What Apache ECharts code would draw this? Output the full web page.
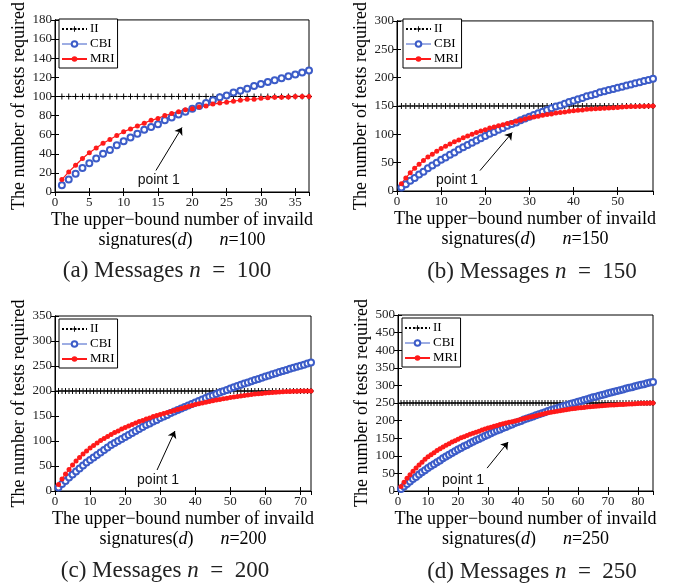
<!DOCTYPE html>
<html><head><meta charset="utf-8">
<script src="https://cdn.jsdelivr.net/npm/echarts@6/dist/echarts.min.js"></script>
<style>html,body{margin:0;padding:0;background:#fff}#c{width:678px;height:588px}</style>
</head><body><div id="c"></div>
<script>
// ---- data (x = d = 1..N) ----
const iiA = [100,100,100,100,100,100,100,100,100,100,100,100,100,100,100,100,100,100,100,100,100,100,100,100,100,100,100,100,100,100,100,100,100,100,100,100,100];
const cbiA = [7,13,19,25,30,35,40,44,49,53,57,61,65,68,71,75,78,81,84,87,90,93,96,99,101,104,106,108,111,113,115,117,119,121,123,125,127];
const mriA = [13,21,28,35,41,46,51,55,59,63,66,69,72,75,77,80,82,84,86,87,89,90,92,93,94,95,96,97,97,98,98.5,99,99,99.5,100,100,100];

const iiB = [150,150,150,150,150,150,150,150,150,150,150,150,150,150,150,150,150,150,150,150,150,150,150,150,150,150,150,150,150,150,150,150,150,150,150,150,150,150,150,150,150,150,150,150,150,150,150,150,150,150,150,150,150,150,150,150,150,150];
const cbiB = [6,12,18,23,29,34,40,45,50,55,59,64,68,73,77,81,85,89,93,97,101,104,108,111,115,118,121,125,128,131,134,137,140,143,146,149,151,154,157,159,162,164,167,169,171,174,176,178,180,182,184,186,188,190,192,194,196,198];
const mriB = [13,23,32,40,47,54,60,65,70,75,79,83,87,90,94,97,100,103,106,108,111,113,115,117,119,121,123,125,127,129,130.5,132,133.5,135,136,137.5,138.5,139.5,140.5,141.5,142.5,143,144,144.5,145,145.5,146,146.5,147,147.5,148,148.5,149,149,149.5,149.5,150,150];

const iiC = [200,200,200,200,200,200,200,200,200,200,200,200,200,200,200,200,200,200,200,200,200,200,200,200,200,200,200,200,200,200,200,200,200,200,200,200,200,200,200,200,200,200,200,200,200,200,200,200,200,200,200,200,200,200,200,200,200,200,200,200,200,200,200,200,200,200,200,200,200,200,200,200,200];
const cbiC = [7,14,20,27,33,39,45,51,57,62,67,72,77,82,87,92,96,100,104,108,112,116,120,124,128,132,135,139,142,146,149,152,156,159,162,165,168,171,174,177,180,183,186,189,191,194,197,199.5,202,205,207.5,210,212.5,215,217,219.5,222,224,226.5,229,231,233.5,235.5,238,240,242,244.5,246.5,248.5,250.5,252.5,255,257];
const mriC = [13,24,34,43,52,60,67,74,80,86,91,96,101,105,109,113,117,120,124,127,130,133,136,139,141,144,146,149,151,153,155,157,159,161,163,165,167,169,171,173,174.5,176,177.5,179,180.5,182,183,184.5,185.5,187,188,189,190,191,192,193,194,194.5,195,196,196.5,197,197.5,198,198.5,199,199,199.5,199.5,200,200,200,200];

const iiD = [250,250,250,250,250,250,250,250,250,250,250,250,250,250,250,250,250,250,250,250,250,250,250,250,250,250,250,250,250,250,250,250,250,250,250,250,250,250,250,250,250,250,250,250,250,250,250,250,250,250,250,250,250,250,250,250,250,250,250,250,250,250,250,250,250,250,250,250,250,250,250,250,250,250,250,250,250,250,250,250,250,250,250,250,250];
const cbiD = [6,13,20,27,34,40,47,53,59,65,71,76,82,87,93,98,103,108,113,118,122,127,131,136,140,144,148,152,156,160,164,168,172,175,179,182,186,189,193,196,199,203,206,209,212,215,218,221,224,227,230,232,235,238,241,243,246,248.5,251,253.5,256,258.5,261,263.5,266,268,270.5,273,275,277.5,280,282,284,286.5,288.5,291,293,295,297.5,299.5,301.5,303.5,306,308,310];
const mriD = [13,25,36,46,56,65,74,82,90,97,103,109,115,120,125,130,134,139,143,147,151,154,158,161,164,167,170,173,176,179,181,184,186,189,191,193,195,197,199,201,203.5,206,208,210,212,214,216,218,220,222,223.5,225,226.5,228,229.5,231,232,233.5,234.5,235.5,236.5,237.5,238.5,239.5,240,241,241.5,242.5,243,243.5,244,244.5,245,245.5,246,246.5,247,247.5,248,248.5,249,249,249.5,250,250];

const seriesNames = ['II', 'CBI', 'MRI'];
const panelLetters = ['a', 'b', 'c', 'd'];
const panelN = [100, 150, 200, 250];
const xMaxes = [37, 58, 73, 85];
const xIntervals = [5, 10, 10, 10];
const yMaxes = [180, 300, 350, 500];
const yIntervals = [20, 50, 50, 50];
// annotation: arrow tail, arrow tip, text position (data coords)
const arrowTails = [[14.7, 22.5], [18.8, 36], [29.1, 42], [29.7, 65]];
const arrowTips = [[18.5, 67.5], [26.1, 103], [34.2, 120], [36.7, 139]];
const labelPos = [[15.1, 12.3], [13.6, 18.9], [29.4, 22], [21.7, 31]];

const dataSets = [[iiA, cbiA, mriA], [iiB, cbiB, mriB], [iiC, cbiC, mriC], [iiD, cbiD, mriD]];

// ---- layout ----
const grids = [
  {left: 55, top: 16, width: 254, height: 176},
  {left: 397, top: 16, width: 256, height: 175},
  {left: 55, top: 316, width: 256, height: 175},
  {left: 398, top: 315, width: 255, height: 176}
];
const legendPos = [{left: 59, top: 19}, {left: 403, top: 19}, {left: 59, top: 319}, {left: 402, top: 318}];
const captionPos = [[167, 271], [532, 272], [165, 571], [532, 572]];

const SERIF = 'Liberation Serif, Times New Roman, serif';
const BLUE = '#3c5cc8';
const RED = '#ff1a1a';
const PLUS = 'path://M0,4.2L10,4.2L10,5.8L0,5.8Z M4.2,0L5.8,0L5.8,10L4.2,10Z';

const xAxis = [], yAxis = [], series = [], legend = [], graphic = [];
grids.forEach((g, i) => {
  const common = {min: 0, splitLine: {show: false}, axisLine: {show: true, lineStyle: {color: '#000', width: 1}},
    axisTick: {show: true, inside: true, length: 4, lineStyle: {color: '#000'}}};
  xAxis.push(Object.assign({}, common, {
    type: 'value', gridIndex: i, position: 'bottom', max: xMaxes[i], interval: xIntervals[i],
    axisLabel: {fontFamily: SERIF, fontSize: 13, color: '#222', margin: 4, showMaxLabel: false},
    name: 'The upper\u2212bound number of invaild\nsignatures({i|d})      {i|n}=' + panelN[i],
    nameLocation: 'middle', nameGap: 12,
    nameTextStyle: {fontFamily: SERIF, fontSize: 18, color: '#000', lineHeight: 20,
      rich: {i: {fontFamily: SERIF, fontSize: 18, fontStyle: 'italic', color: '#000', lineHeight: 20}}}
  }));
  xAxis.push(Object.assign({}, common, {
    type: 'value', gridIndex: i, position: 'top', max: xMaxes[i], interval: xIntervals[i],
    axisLabel: {show: false}
  }));
  yAxis.push(Object.assign({}, common, {
    type: 'value', gridIndex: i, position: 'left', max: yMaxes[i], interval: yIntervals[i],
    axisLabel: {fontFamily: SERIF, fontSize: 13, color: '#222', margin: 3},
    name: 'The number of tests required', nameLocation: 'middle', nameGap: 27,
    nameTextStyle: {fontFamily: SERIF, fontSize: 18, color: '#000'}
  }));
  yAxis.push(Object.assign({}, common, {
    type: 'value', gridIndex: i, position: 'right', max: yMaxes[i], interval: yIntervals[i],
    axisLabel: {show: false}
  }));

  const [ii, cbi, mri] = dataSets[i];
  const ax = 2 * i;
  series.push({
    name: 'II', type: 'line', xAxisIndex: ax, yAxisIndex: ax,
    data: ii.map((v, k) => [k + 1, v]),
    symbol: PLUS, symbolSize: 6, itemStyle: {color: '#000'},
    lineStyle: {color: '#000', width: 1, type: 'dotted'},
    markLine: {silent: true, symbol: ['none', 'arrow'], symbolSize: 7, animation: false,
      lineStyle: {color: '#000', width: 1, type: 'solid'}, label: {show: false},
      data: [[{coord: arrowTails[i]}, {coord: arrowTips[i]}]]},
    markPoint: {silent: true, symbol: 'rect', symbolSize: 1, animation: false,
      itemStyle: {color: 'rgba(0,0,0,0)'},
      label: {show: true, position: 'inside', formatter: 'point 1',
        fontFamily: 'Liberation Sans, Arial, sans-serif', fontSize: 14, color: '#111'},
      data: [{coord: labelPos[i]}]}
  });
  series.push({
    name: 'CBI', type: 'line', xAxisIndex: ax, yAxisIndex: ax,
    data: cbi.map((v, k) => [k + 1, v]),
    symbol: 'emptyCircle', symbolSize: 6, itemStyle: {color: BLUE, borderWidth: 1},
    lineStyle: {color: BLUE, width: 1, opacity: 0}
  });
  series.push({
    name: 'MRI', type: 'line', xAxisIndex: ax, yAxisIndex: ax,
    data: mri.map((v, k) => [k + 1, v]),
    symbol: 'circle', symbolSize: 5, itemStyle: {color: RED},
    lineStyle: {color: RED, width: 1.2}
  });

  legend.push({
    left: legendPos[i].left, top: legendPos[i].top, orient: 'vertical',
    selectedMode: false, itemWidth: 25, itemHeight: 7, itemGap: 1,
    padding: [3, 3, 2, 2], borderColor: '#000', borderWidth: 1, backgroundColor: '#fff',
    textStyle: {fontFamily: SERIF, fontSize: 13, color: '#000', padding: [0, 0, 0, -2], lineHeight: 14},
    data: [{name: 'II'}, {name: 'CBI', lineStyle: {opacity: 1, width: 1, color: BLUE}}, {name: 'MRI'}]
  });

  graphic.push({
    type: 'text', x: captionPos[i][0], y: captionPos[i][1],
    style: {
      text: '(' + panelLetters[i] + ') Messages {i|n}  =  ' + panelN[i],
      fontFamily: SERIF, fontSize: 23, fill: '#222', align: 'center', verticalAlign: 'middle',
      rich: {i: {fontFamily: SERIF, fontSize: 23, fontStyle: 'italic', fill: '#222'}}
    }
  });
});

const chart = echarts.init(document.getElementById('c'), null, {renderer: 'canvas'});
chart.setOption({
  animation: false,
  backgroundColor: '#fff',
  grid: grids.map(g => Object.assign({show: true, borderColor: '#000', borderWidth: 1, containLabel: false}, g)),
  xAxis, yAxis, series, legend, graphic
});
</script></body></html>
